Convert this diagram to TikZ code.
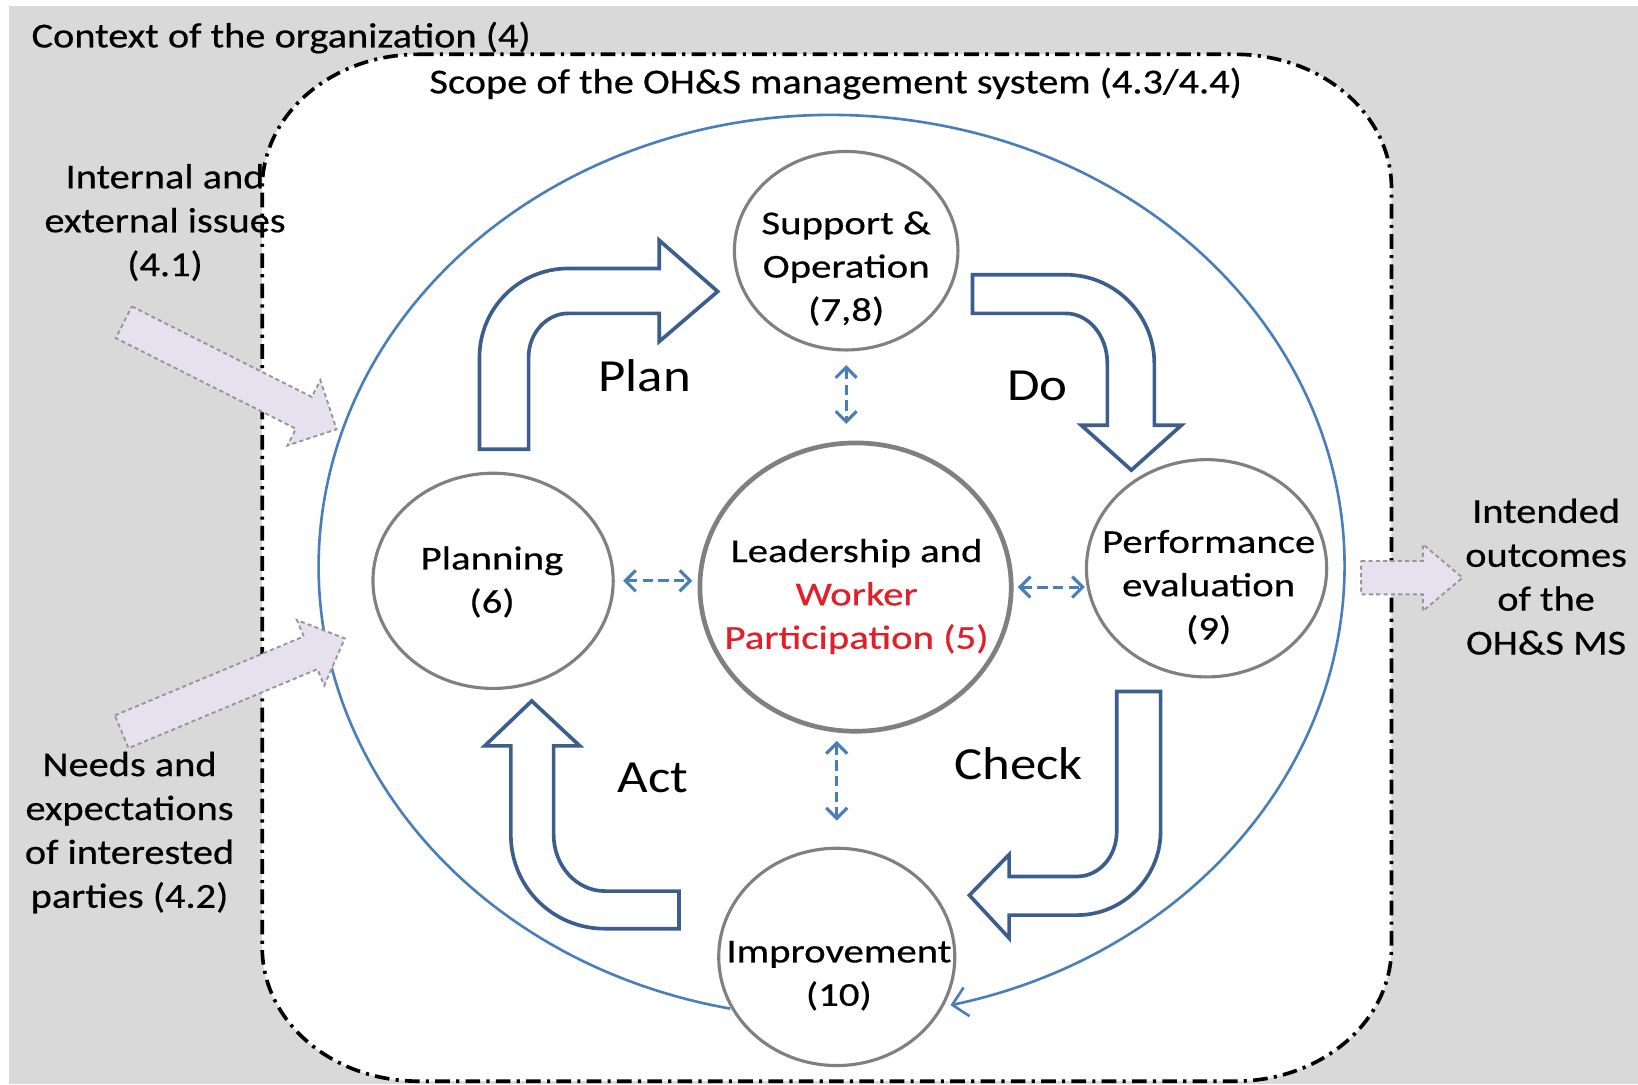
\documentclass[tikz,border=0pt]{standalone}
\usepackage{fontspec}
\setmainfont{Carlito}[FakeStretch=1.15]
\newfontfamily\sidefont{Carlito}[FakeStretch=1.15,FakeBold=0.5]
\newfontfamily\circfont{Carlito}[FakeStretch=1.22,FakeBold=0.5]
\usetikzlibrary{arrows.meta,shapes.geometric}
\definecolor{bggrey}{RGB}{217,217,217}
\definecolor{ellblue}{RGB}{74,126,187}
\definecolor{blockblue}{RGB}{60,94,140}
\definecolor{circgrey}{RGB}{128,128,128}
\definecolor{lav}{RGB}{230,225,239}
\definecolor{lavedge}{RGB}{150,150,155}
\definecolor{wred}{RGB}{226,30,40}
\begin{document}
\begin{tikzpicture}[x=1pt,y=-1pt,
  ring/.style={draw=circgrey, line width=3pt, fill=white, ellipse, inner sep=0pt},
  blockarrow/.style={draw=blockblue, line width=3.5pt, fill=white, line join=miter},
  inarrow/.style={draw=lavedge, line width=1.8pt, dash pattern=on 4pt off 3pt, fill=lav},
  linkarrow/.style={draw=ellblue, line width=3pt, dash pattern=on 10pt off 5pt,
     {Straight Barb[length=10pt,width=20pt]}-{Straight Barb[length=10pt,width=20pt]}},
  maintext/.style={font=\sidefont\fontsize{33.6}{42}\selectfont, align=center, inner sep=0pt},
  circtext/.style={font=\circfont\fontsize{32}{41.5}\selectfont, align=center, inner sep=0pt},
  pdca/.style={font=\fontsize{44}{50}\selectfont, inner sep=0pt}
]
\useasboundingbox (0,0) rectangle (1568,1038);
\fill[white] (0,0) rectangle (1568,1038);
\fill[bggrey] (9,6) rectangle (1568,1038);

% scope boundary
\draw[black, line width=3.5pt, fill=white, dash pattern=on 14pt off 6pt on 3pt off 6pt]
  (401,52) -- (1182,52) .. controls (1265,52) and (1332,109) .. (1332,180)
  -- (1332,907) .. controls (1332,978) and (1265,1035) .. (1182,1035)
  -- (401,1035) .. controls (318,1035) and (251,978) .. (251,907)
  -- (251,180) .. controls (251,109) and (318,52) .. (401,52) -- cycle;

\node[maintext, anchor=west] (context) at (30,36) {Context of the organization (4)};
\node[maintext] (scope) at (800,80) {Scope of the OH\&S management system (4.3/4.4)};

% big cycle
\coordinate (arcstart) at (699,965.5);
\draw[ellblue, line width=2.5pt, -{Straight Barb[length=14pt,width=28pt]}]
  (arcstart) arc[start angle=101.4, end angle=436.6, x radius=491, y radius=432];

% block arrows
\draw[blockarrow] (459,430) -- (459,342) .. controls (459,295) and (497,257) .. (544,257)
  -- (631,257) -- (631,230) -- (687,279) -- (631,327) -- (631,300) -- (544,300)
  .. controls (523,300) and (506,319) .. (506,342) -- (506,430) -- cycle;
\draw[blockarrow] (931,263) -- (1020,263) .. controls (1067,263) and (1105,301) .. (1105,348)
  -- (1105,407) -- (1131,407) -- (1083,450) -- (1035,407) -- (1060,407) -- (1060,348)
  .. controls (1060,321) and (1042,300) .. (1020,300) -- (931,300) -- cycle;
\draw[blockarrow] (1069,662) -- (1111,662) -- (1111,796) .. controls (1111,840) and (1075,876) .. (1031,876)
  -- (966,876) -- (966,898) -- (928,857) -- (966,818) -- (966,839) -- (1031,839)
  .. controls (1052,839) and (1069,820) .. (1069,796) -- cycle;
\draw[blockarrow] (650,853) -- (650,889) -- (579,889) .. controls (529,889) and (489,849) .. (489,799)
  -- (489,714) -- (464,714) -- (509,671) -- (555,714) -- (530,714) -- (530,799)
  .. controls (530,829) and (552,853) .. (579,853) -- cycle;

% circles
\node[ring, minimum width=214pt, minimum height=190pt] (sup) at (810,240) {};
\node[ring, minimum width=230pt, minimum height=206pt] (pln) at (472,556) {};
\node[ring, line width=4.5pt, minimum width=298pt, minimum height=276pt] (lead) at (819,562) {};
\node[ring, minimum width=230pt, minimum height=208pt] (perf) at (1155,544) {};
\node[ring, minimum width=226pt, minimum height=208pt] (imp) at (801,916) {};

\node[circtext] (suptxt) at (810,257) {Support \&\\Operation\\(7,8)};
\node[circtext] (plntxt) at (471,557) {Planning\\(6)};
\node[circtext] (leadtxt) at (820,571) {Leadership and\\\textcolor{wred}{Worker}\\\textcolor{wred}{Participation (5)}};
\node[circtext] (perftxt) at (1157,562) {Performance\\evaluation\\(9)};
\node[circtext] (imptxt) at (803,934) {Improvement\\(10)};

% dashed links
\draw[linkarrow, shorten <=13pt, shorten >=16pt] (sup.south) -- (sup.south |- lead.north);
\draw[linkarrow, shorten <=8pt, shorten >=5pt] (pln.east) -- (pln.east -| lead.west);
\draw[linkarrow, shorten <=4pt, shorten >=0pt] (lead.east) -- (lead.east -| perf.west);
\draw[linkarrow, shorten <=7pt, shorten >=25pt] (imp.north |- lead.south) -- (imp.north);

% PDCA labels
\node[pdca] (plan) at (617,360) {Plan};
\node[pdca] (do) at (993,369) {Do};
\node[pdca] (act) at (625,745) {Act};
\node[pdca] (check) at (975,731) {Check};

% input / output arrows
\begin{scope}[shift={(118.5,308.5)}, rotate=-26.7]
  \draw[inarrow] (0,-17) -- (193,-17) -- (193,-35) -- (228,0) -- (193,35) -- (193,17) -- (0,17) -- cycle;
\end{scope}
\begin{scope}[shift={(116.5,700.5)}, rotate=22.7]
  \draw[inarrow] (0,-17) -- (196,-17) -- (196,-34) -- (231.5,0) -- (196,34) -- (196,17) -- (0,17) -- cycle;
\end{scope}
\draw[inarrow] (1303,537) -- (1362,537) -- (1362,521) -- (1400,553) -- (1362,585) -- (1362,569) -- (1303,569) -- cycle;

\node[maintext] (issues) at (158,213) {Internal and\\external issues\\(4.1)};
\node[maintext] (needs) at (124,797) {Needs and\\expectations\\of interested\\parties (4.2)};
\node[maintext] (outcomes) at (1480,552) {Intended\\outcomes\\of the\\OH\&S MS};
\end{tikzpicture}
\end{document}
